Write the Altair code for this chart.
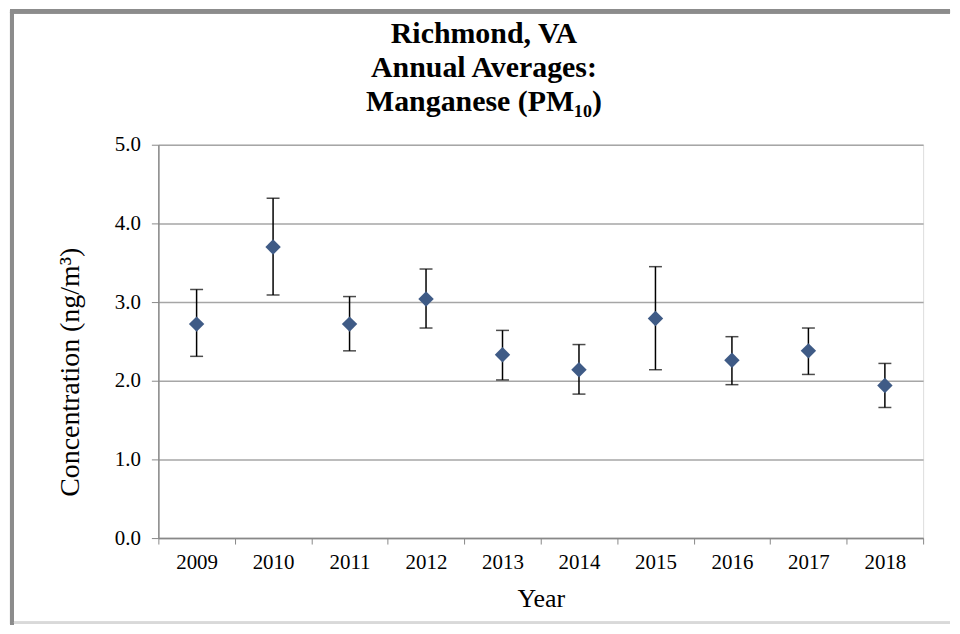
import altair as alt
import pandas as pd

years = ["2009", "2010", "2011", "2012", "2013", "2014", "2015", "2016", "2017", "2018"]
means = [2.72, 3.70, 2.72, 3.04, 2.33, 2.14, 2.79, 2.26, 2.38, 1.94]
lowers = [2.31, 3.09, 2.38, 2.67, 2.01, 1.83, 2.14, 1.95, 2.08, 1.66]
uppers = [3.16, 4.32, 3.07, 3.42, 2.64, 2.46, 3.45, 2.56, 2.67, 2.22]

df = pd.DataFrame({"Year": years, "Mean": means, "Lower": lowers, "Upper": uppers})

FONT = "Liberation Serif"
W, H = 768, 395

x_enc = alt.X(
    "Year:N",
    title="Year",
    sort=years,
    scale=alt.Scale(paddingInner=0, paddingOuter=0),
    axis=alt.Axis(
        labelAngle=0,
        labelAlign="center",
        labelFont=FONT,
        labelFontSize=21,
        labelColor="#000000",
        labelPadding=19,
        titleFont=FONT,
        titleFontSize=26,
        titleFontWeight="normal",
        titleColor="#000000",
        titlePadding=13,
        tickBand="extent",
        tickSize=6,
        tickColor="#888888",
        domainColor="#888888",
        domainWidth=1.5,
        grid=False,
    ),
)

y_scale = alt.Scale(domain=[0, 5], nice=False)
y_axis = alt.Axis(
    values=[0, 1, 2, 3, 4, 5],
    format=".1f",
    labelFont=FONT,
    labelFontSize=21,
    labelColor="#000000",
    labelPadding=11,
    titleFont=FONT,
    titleFontSize=28,
    titleFontWeight="normal",
    titleColor="#000000",
    titlePadding=30,
    titleY=228,
    tickSize=7,
    tickColor="#888888",
    domainColor="#888888",
    domainWidth=1.5,
    gridColor="#a6a6a6",
    gridWidth=1.5,
    gridOpacity=1,
)

base = alt.Chart(df)

points_axes = base.mark_point(
    shape="diamond", filled=True, size=240, color="#3F5B86", opacity=1
).encode(
    x=x_enc,
    y=alt.Y("Mean:Q", title="Concentration (ng/m³)", scale=y_scale, axis=y_axis),
)

bars = base.mark_rule(color="#000000", strokeWidth=1.5).encode(
    x=alt.X("Year:N", sort=years),
    y=alt.Y("Lower:Q", scale=y_scale),
    y2="Upper:Q",
)

caps_up = base.mark_tick(color="#000000", thickness=1.5, size=13).encode(
    x=alt.X("Year:N", sort=years),
    y=alt.Y("Upper:Q", scale=y_scale),
)
caps_lo = base.mark_tick(color="#000000", thickness=1.5, size=13).encode(
    x=alt.X("Year:N", sort=years),
    y=alt.Y("Lower:Q", scale=y_scale),
)

# outer frame of the figure
frame_left = alt.Chart(df).mark_rule(color="#8c8c8c", strokeWidth=4).encode(
    x=alt.value(-147), y=alt.value(-134), y2=alt.value(482)
)
frame_top = alt.Chart(df).mark_rule(color="#8c8c8c", strokeWidth=4).encode(
    x=alt.value(-149), x2=alt.value(795), y=alt.value(-134)
)
frame_bottom = alt.Chart(df).mark_rule(color="#d9d9d9", strokeWidth=2).encode(
    x=alt.value(-145), x2=alt.value(795), y=alt.value(480)
)

chart = alt.layer(
    frame_left, frame_top, frame_bottom, bars, caps_up, caps_lo, points_axes
).properties(
    width=W,
    height=H,
    padding=0,
    title=alt.TitleParams(
        text=["Richmond, VA", "Annual Averages:", "Manganese (PM₁₀)"],
        font=FONT,
        fontSize=30,
        fontWeight="bold",
        color="#000000",
        lineHeight=34,
        anchor="middle",
        dx=-57,
        offset=-108,
    ),
).configure_view(stroke=None).configure(background="#ffffff")

chart.save("out.html", embed_options={"renderer": "svg", "actions": False})
